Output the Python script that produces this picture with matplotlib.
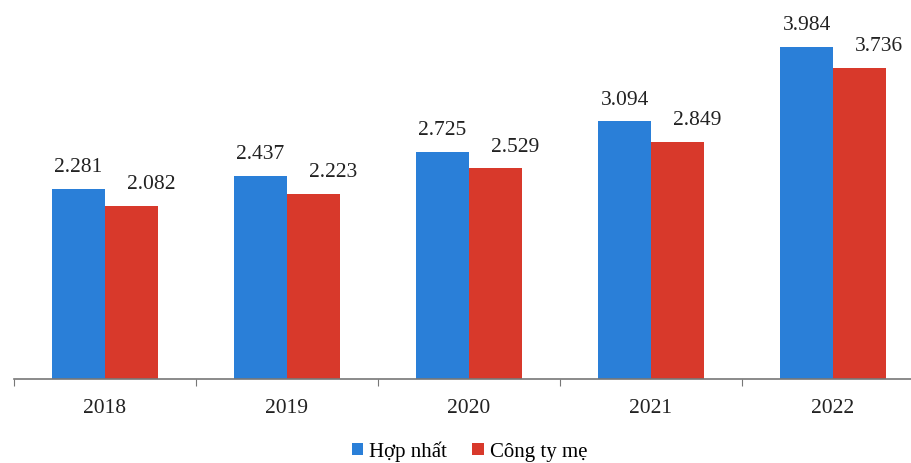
import numpy as np
import matplotlib.pyplot as plt

years = ["2018", "2019", "2020", "2021", "2022"]
hop_nhat = [2.281, 2.437, 2.725, 3.094, 3.984]
cong_ty_me = [2.082, 2.223, 2.529, 2.849, 3.736]
labels_hn = ["2.281", "2.437", "2.725", "3.094", "3.984"]
labels_ct = ["2.082", "2.223", "2.529", "2.849", "3.736"]

blue = "#2a7fd8"
red = "#d8392b"

plt.rcParams['font.family'] = ['Liberation Serif', 'DejaVu Serif']

fig = plt.figure(figsize=(9.12, 4.64), dpi=100)
ax = fig.add_axes([14 / 912, 84 / 464, 910 / 912, 380 / 464])

x = np.arange(len(years))
w = 0.29
b1 = ax.bar(x - w / 2, hop_nhat, w, color=blue, label="Hợp nhất")
b2 = ax.bar(x + w / 2, cong_ty_me, w, color=red, label="Công ty mẹ")

# red labels sit a little to the right of their bars, as in the source
for bars, labs, dx in ((b1, labels_hn, 0), (b2, labels_ct, 14)):
    for rect, lab in zip(bars, labs):
        ax.annotate(lab, (rect.get_x() + rect.get_width() / 2, rect.get_height()),
                    xytext=(dx, 9), textcoords="offset points",
                    ha="center", va="bottom", fontsize=15.5, color="#222222")

ax.set_xlim(-0.5, 4.5)
ax.set_ylim(0, 4.56)
ax.set_yticks([])
for s in ("top", "right", "left"):
    ax.spines[s].set_visible(False)
ax.spines["bottom"].set_color("#777777")
ax.spines["bottom"].set_linewidth(1.2)

ax.set_xticks(np.arange(-0.5, 5, 1), minor=False)
ax.set_xticklabels([])
ax.tick_params(axis="x", which="major", length=5, color="#777777")
ax.set_xticks(x, minor=True)
ax.set_xticklabels(years, minor=True, fontsize=15.5, color="#222222")
ax.tick_params(axis="x", which="minor", length=0, pad=14)

fig.legend(handles=[b1, b2], loc="center", bbox_to_anchor=(0.515, 0.026),
           ncol=2, frameon=False, fontsize=15, handlelength=0.55, handleheight=0.55,
           handletextpad=0.3, columnspacing=1.2, borderpad=0)

fig.savefig("out.png", dpi=100)
